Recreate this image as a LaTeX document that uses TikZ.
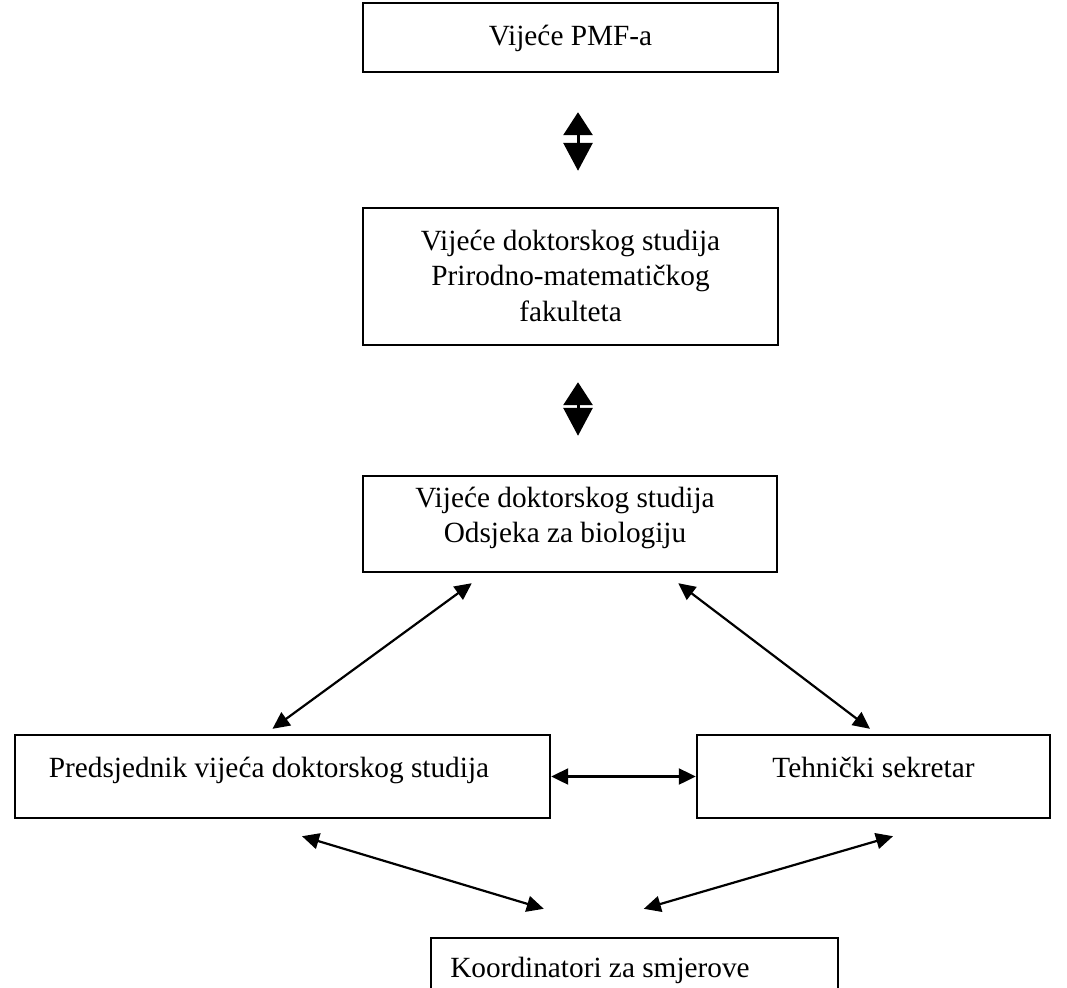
\documentclass[tikz,border=0pt]{standalone}
\usepackage{fontspec}
\setmainfont{Liberation Serif}
\usetikzlibrary{arrows.meta}
\begin{document}
\begin{tikzpicture}[x=1pt,y=-1pt,
  box/.style={draw,line width=2.4pt,inner sep=0pt},
  txt/.style={font=\fontsize{29.3}{35}\selectfont,inner sep=0pt,anchor=base},
  conn/.style={line width=2.2pt,{Triangle[length=17pt,width=16pt]}-{Triangle[length=17pt,width=16pt]}},
  big/.style={line width=3pt,{Triangle[length=23pt,width=29pt]}-{Triangle[length=28pt,width=29pt]}}]
\useasboundingbox (0,0) rectangle (1067,987);
\clip (0,0) rectangle (1067,987);
% boxes
\node[box,minimum width=415pt,minimum height=69pt]  (b1) at (570.5,37.5) {};
\node[box,minimum width=415pt,minimum height=137pt] (b2) at (570.5,276.5) {};
\node[box,minimum width=414pt,minimum height=96pt]  (b3) at (570,524) {};
\node[box,minimum width=535pt,minimum height=83pt]  (b4) at (282.5,776.5) {};
\node[box,minimum width=353pt,minimum height=83pt]  (b5) at (873.5,776.5) {};
\node[box,minimum width=407pt,minimum height=72pt]  (b6) at (634.5,974) {};
% texts
\node[txt] (t1) at (570.5,46) {Vijeće PMF-a};
\node[txt] (t2a) at (570.5,250) {Vijeće doktorskog studija};
\node[txt] (t2b) at (570.5,285) {Prirodno-matematičkog};
\node[txt] (t2c) at (570.5,321) {fakulteta};
\node[txt] (t3a) at (565,507) {Vijeće doktorskog studija};
\node[txt] (t3b) at (565,542) {Odsjeka za biologiju};
\node[txt] (t4) at (269,777) {Predsjednik vijeća doktorskog studija};
\node[txt] (t5) at (873.5,777) {Tehnički sekretar};
\node[txt] (t6) at (600,977) {Koordinatori za smjerove};
% connectors
\draw[big] ([xshift=7.5pt,yshift=-39pt]b1.south) -- ([xshift=7.5pt,yshift=36pt]b2.north);
\draw[big] ([xshift=7.5pt,yshift=-36pt]b2.south) -- ([xshift=8pt,yshift=39pt]b3.north);
\draw[conn] ([shift={(110,10)}]b3.south west) -- ([shift={(-10,-5)}]b4.north);
\draw[conn] ([shift={(-100,10)}]b3.south east) -- ([shift={(-3.5,-5)}]b5.north);
\draw[conn] (b4.east) -- (b5.west);
\draw[conn] ([shift={(19.5,17)}]b4.south) -- ([shift={(114,-28)}]b6.north west);
\draw[conn] ([shift={(19.5,17)}]b5.south) -- ([shift={(214,-28)}]b6.north west);
\end{tikzpicture}
\end{document}
